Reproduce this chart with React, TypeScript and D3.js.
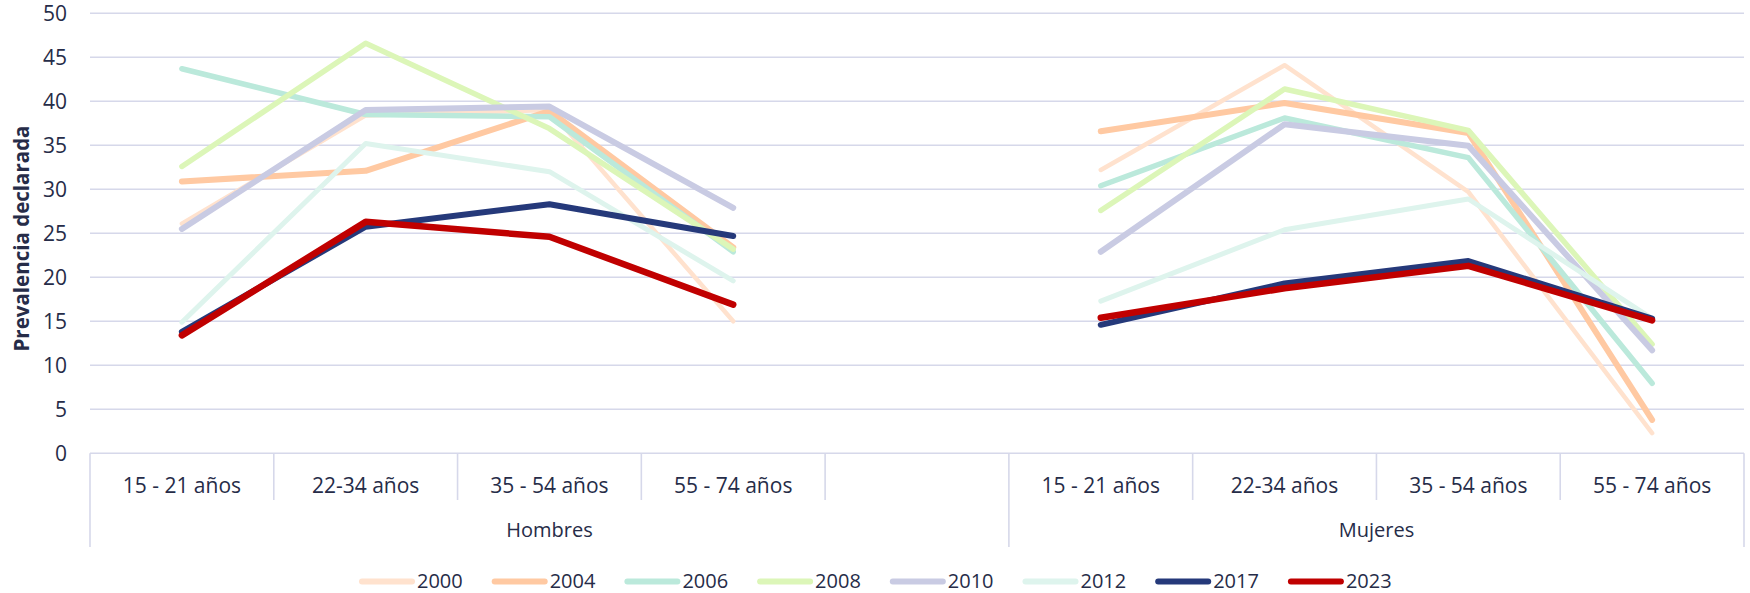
import React from "react";
import * as d3 from "d3";

const categories: string[] = ["15 - 21 años", "22-34 años", "35 - 54 años", "55 - 74 años", "", "15 - 21 años", "22-34 años", "35 - 54 años", "55 - 74 años"];
const groups = [
  { label: "Hombres", start: 0, end: 4 },
  { label: "Mujeres", start: 5, end: 8 },
];
const yTicks: number[] = [0, 5, 10, 15, 20, 25, 30, 35, 40, 45, 50];

const years: string[] = ["2000", "2004", "2006", "2008", "2010", "2012", "2017", "2023"];
const colors: string[] = ["#FFE2CE", "#FFC9A2", "#BBE9DB", "#DCF6B8", "#C9CBE3", "#DEF4ED", "#25397A", "#C00000"];
const widths: number[] = [4.5, 6, 5.5, 5.5, 6, 5, 6, 6.5];

const v2000: (number | null)[] = [26.1, 38.4, 39.0, 15.0, null, 32.2, 44.1, 29.7, 2.3];
const v2004: (number | null)[] = [30.9, 32.1, 38.9, 23.4, null, 36.6, 39.8, 36.4, 3.8];
const v2006: (number | null)[] = [43.7, 38.5, 38.25, 22.9, null, 30.4, 38.1, 33.6, 7.95];
const v2008: (number | null)[] = [32.6, 46.6, 36.9, 23.2, null, 27.6, 41.4, 36.7, 12.4];
const v2010: (number | null)[] = [25.5, 39.0, 39.4, 27.9, null, 22.9, 37.4, 34.95, 11.7];
const v2012: (number | null)[] = [14.9, 35.2, 32.0, 19.6, null, 17.3, 25.4, 28.9, 15.3];
const v2017: (number | null)[] = [13.8, 25.75, 28.3, 24.7, null, 14.6, 19.3, 21.85, 15.3];
const v2023: (number | null)[] = [13.4, 26.3, 24.6, 16.9, null, 15.4, 18.75, 21.3, 15.1];
const seriesValues = [v2000, v2004, v2006, v2008, v2010, v2012, v2017, v2023];

const FONT = "'Open Sans', sans-serif";
const TEXT = "#262C48";
const GRID = "#D6D8EA";

export default function App() {
  const W = 1750, H = 593;
  const left = 90, right = 1744, top = 13.3, bottom = 453.3;
  const x = d3.scaleBand<number>().domain(categories.map((_, i) => i)).range([left, right]).padding(0);
  const bw = x.bandwidth();
  const cx = (i: number) => (x(i) as number) + bw / 2;
  const y = d3.scaleLinear().domain([0, 50]).range([bottom, top]);

  const line = d3
    .line<number | null>()
    .defined((d) => d !== null)
    .x((_, i) => cx(i))
    .y((d) => y(d as number));

  const sepXs = d3.range(categories.length + 1).map((k) => left + k * bw);
  const groupEdges = new Set<number>([0, 5, 9]);

  const legendStart = 359;
  const legendStep = 132.7;
  const legendY = 581.5;

  return (
    <div style={{ position: "absolute", left: 0, top: 0 }}>
      <svg width={W} height={H} style={{ display: "block", fontFamily: FONT }}>
        {yTicks.map((t) => (
          <line key={t} x1={left} x2={right} y1={y(t)} y2={y(t)} stroke={GRID} strokeWidth={1.6} />
        ))}
        {yTicks.map((t) => (
          <text key={"l" + t} x={67} y={y(t)} dy="0.36em" textAnchor="end" fontSize={21} fill={TEXT}>
            {t}
          </text>
        ))}
        <text
          transform={`translate(22,238.5) rotate(-90)`}
          textAnchor="middle"
          dy="0.36em"
          fontSize={20.5}
          fontWeight="bold"
          fill={TEXT}
        >
          Prevalencia declarada
        </text>
        {sepXs.map((sx, k) => (
          <line
            key={"s" + k}
            x1={sx}
            x2={sx}
            y1={bottom}
            y2={groupEdges.has(k) ? 547 : 500}
            stroke={GRID}
            strokeWidth={1.6}
          />
        ))}
        {categories.map((c, i) => (
          <text key={"c" + i} x={cx(i)} y={485} dy="0.36em" textAnchor="middle" fontSize={21} fill={TEXT}>
            {c}
          </text>
        ))}
        {groups.map((g) => (
          <text
            key={g.label}
            x={((x(g.start) as number) + (x(g.end) as number) + bw) / 2}
            y={530}
            dy="0.36em"
            textAnchor="middle"
            fontSize={20}
            fill={TEXT}
          >
            {g.label}
          </text>
        ))}
        {seriesValues.map((vals, s) => (
          <path
            key={years[s]}
            d={line(vals) || ""}
            fill="none"
            stroke={colors[s]}
            strokeWidth={widths[s]}
            strokeLinecap="round"
            strokeLinejoin="round"
          />
        ))}
        {years.map((yr, s) => {
          const x0 = legendStart + s * legendStep;
          return (
            <g key={"lg" + yr}>
              <line x1={x0 + 3} x2={x0 + 53} y1={legendY} y2={legendY} stroke={colors[s]} strokeWidth={6} strokeLinecap="round" />
              <text x={x0 + 58} y={legendY - 1} dy="0.36em" fontSize={20} fill={TEXT}>
                {yr}
              </text>
            </g>
          );
        })}
      </svg>
    </div>
  );
}
